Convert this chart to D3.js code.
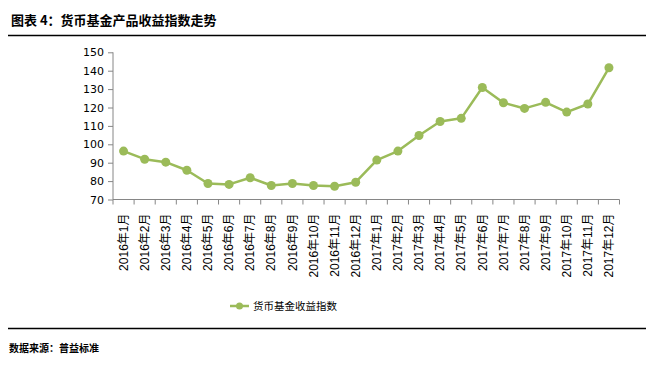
<!DOCTYPE html>
<html><head><meta charset="utf-8">
<script src="https://cdn.jsdelivr.net/npm/d3@7"></script>
<style>body{margin:0;background:#fff}svg{display:block}</style>
</head><body>
<svg id="c" width="647" height="365"></svg>
<script>
const categories = ["2016年1月","2016年2月","2016年3月","2016年4月","2016年5月","2016年6月","2016年7月","2016年8月","2016年9月","2016年10月","2016年11月","2016年12月","2017年1月","2017年2月","2017年3月","2017年4月","2017年5月","2017年6月","2017年7月","2017年8月","2017年9月","2017年10月","2017年11月","2017年12月"];
const values = [96.3,91.9,90.3,85.9,78.7,78.2,81.8,77.6,78.7,77.6,77.2,79.4,91.4,96.3,104.8,112.4,114.1,130.9,122.6,119.5,122.8,117.5,121.9,141.6];
const yTicks = [70,80,90,100,110,120,130,140,150];
const seriesName = "货币基金收益指数";
const title = "图表 4：货币基金产品收益指数走势";
const source = "数据来源：普益标准";

const svg = d3.select("#c");
const color = "#9BBB59";
const cjk = "'Noto Sans CJK SC', sans-serif";
const num = "'Liberation Sans', 'Noto Sans CJK SC', sans-serif";

const x = d3.scaleBand().domain(categories).range([113, 619.5]);
const y = d3.scaleLinear().domain([70,150]).range([199.5, 52.3]);

// title
svg.append("text").attr("x",11).attr("y",25).attr("font-family",cjk).attr("font-weight","bold").attr("font-size",13).attr("fill","#000").text(title);
svg.append("line").attr("x1",8).attr("x2",646).attr("y1",35.5).attr("y2",35.5).attr("stroke","#000").attr("stroke-width",1.5);

// y axis
const ya = svg.append("g").attr("transform","translate(113,0)")
  .call(d3.axisLeft(y).tickValues(yTicks).tickSize(5).tickPadding(4));
ya.select(".domain").attr("stroke","#868686").attr("d","M-0,52.3V199.5");
ya.selectAll(".tick line").attr("stroke","#868686");
ya.selectAll(".tick text").attr("font-family","'DejaVu Sans', sans-serif").attr("font-size",11).attr("fill","#000");

// x axis
const xa = svg.append("g").attr("transform","translate(0,199.5)")
  .call(d3.axisBottom(x).tickSize(0).tickPadding(0));
xa.select(".domain").attr("stroke","#868686").attr("d","M113,0H619.5");
xa.selectAll(".tick line").remove();
xa.selectAll(".tick text")
  .attr("font-family",num).attr("font-size",12).attr("fill","#000")
  .attr("transform","rotate(-90)").attr("text-anchor","end")
  .attr("x",-14).attr("y",0).attr("dy","0.35em");
// tick marks at category boundaries
const bounds = categories.map(c => x(c)).concat([x.range()[1]]);
svg.append("g").selectAll("line").data(bounds).join("line")
  .attr("x1",d=>d).attr("x2",d=>d).attr("y1",199.5).attr("y2",204.5)
  .attr("stroke","#868686");

// line
const cx = d => x(d) + x.bandwidth()/2;
const line = d3.line().x((d,i)=>cx(categories[i])).y(d=>y(d));
svg.append("path").datum(values).attr("d",line).attr("fill","none").attr("stroke",color).attr("stroke-width",2.5).attr("stroke-linejoin","round");
svg.append("g").selectAll("circle").data(values).join("circle")
  .attr("cx",(d,i)=>cx(categories[i])).attr("cy",d=>y(d)).attr("r",4.5).attr("fill",color);

// legend
svg.append("line").attr("x1",230).attr("x2",249).attr("y1",306).attr("y2",306).attr("stroke",color).attr("stroke-width",2.5);
svg.append("circle").attr("cx",239.5).attr("cy",306).attr("r",3.5).attr("fill",color);
svg.append("text").attr("x",253).attr("y",310).attr("font-family",cjk).attr("font-size",10.5).attr("fill","#000").text(seriesName);

// bottom
svg.append("line").attr("x1",8).attr("x2",646).attr("y1",328.5).attr("y2",328.5).attr("stroke","#000").attr("stroke-width",1.5);
svg.append("text").attr("x",9).attr("y",352).attr("font-family",cjk).attr("font-weight","bold").attr("font-size",10).attr("fill","#000").text(source);
</script>
</body></html>
